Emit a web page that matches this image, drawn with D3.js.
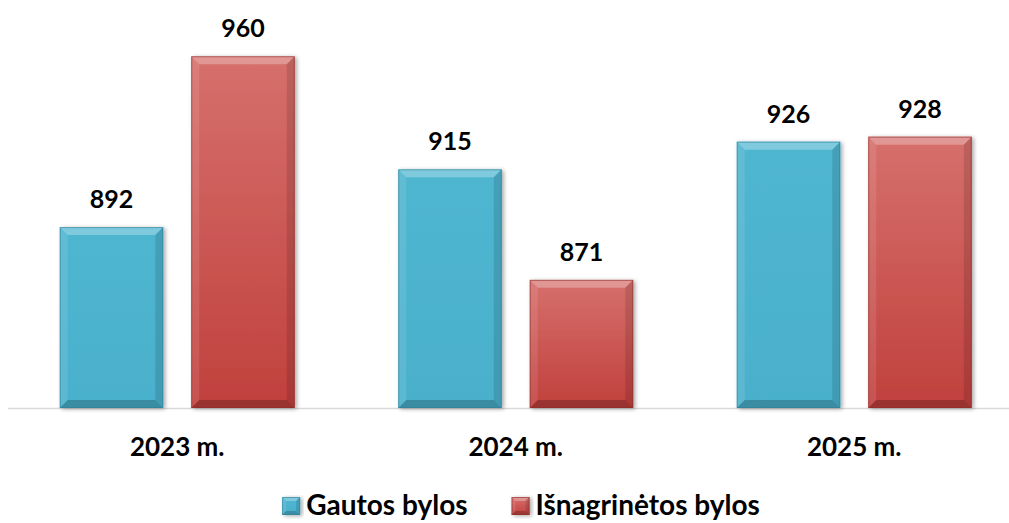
<!DOCTYPE html>
<html><head><meta charset="utf-8">
<script src="https://cdn.jsdelivr.net/npm/d3@7"></script>
<style>body{margin:0;background:#fff}svg{display:block}text{font-family:Lato,"Open Sans",sans-serif;font-weight:bold}</style>
</head><body><svg id="c" width="1009" height="523"></svg>
<script>
const categories = ["2023 m.", "2024 m.", "2025 m."];
const seriesNames = ["Gautos bylos", "Išnagrinėtos bylos"];
const gautos = [892, 915, 926];
const isnagrinetos = [960, 871, 928];
const yDomain = [820, 980];

const svg = d3.select("#c");
const defs = svg.append("defs");
const f = defs.append("filter").attr("id","sh").attr("x","-10%").attr("y","-10%").attr("width","130%").attr("height","130%");
f.append("feDropShadow").attr("dx",2).attr("dy",1).attr("stdDeviation",2).attr("flood-color","#000").attr("flood-opacity",0.35);
const g0 = defs.append("linearGradient").attr("id","gr1").attr("x1",0).attr("x2",0).attr("y1",0).attr("y2",1);
g0.append("stop").attr("offset","0%").attr("stop-color","#D6706C");
g0.append("stop").attr("offset","100%").attr("stop-color","#C0403D");
const g1 = defs.append("linearGradient").attr("id","gr0").attr("x1",0).attr("x2",0).attr("y1",0).attr("y2",1);
g1.append("stop").attr("offset","0%").attr("stop-color","#4FB6D0");
g1.append("stop").attr("offset","100%").attr("stop-color","#4AB0CC");
const fills = ["url(#gr0)", "url(#gr1)"];

const baseY = 408;
const x = d3.scaleBand().domain(categories).range([8, 1023.5]).paddingInner(0).paddingOuter(0);
const x1 = d3.scaleBand().domain(seriesNames).range([51.75, 338.5-51.75]).paddingInner(25/235*2).paddingOuter(0);
const y = d3.scaleLinear().domain(yDomain).range([baseY, 6]);

svg.append("line").attr("x1",8).attr("x2",1009).attr("y1",baseY+0.5).attr("y2",baseY+0.5).attr("stroke","#D9D9D9").attr("stroke-width",1.5);

const data = [];
categories.forEach((c,i)=>{ data.push({c, s:0, v:gautos[i]}); data.push({c, s:1, v:isnagrinetos[i]}); });

function bevel(gr, x0, y0, w, h, s, b) {
  const x1_ = x0+w, y1_ = y0+h;
  gr.append("rect").attr("x",x0).attr("y",y0).attr("width",w).attr("height",h).attr("fill",fills[s]).attr("filter","url(#sh)");
  gr.append("polygon").attr("points",[[x0,y0],[x1_,y0],[x1_-b,y0+b],[x0+b,y0+b]].join(" ")).attr("fill","#fff").attr("opacity",0.28);
  gr.append("polygon").attr("points",[[x0,y0],[x0+b,y0+b],[x0+b,y1_-b],[x0,y1_]].join(" ")).attr("fill","#fff").attr("opacity",0.1);
  gr.append("polygon").attr("points",[[x1_,y0],[x1_-b,y0+b],[x1_-b,y1_-b],[x1_,y1_]].join(" ")).attr("fill","#000").attr("opacity",0.12);
  gr.append("polygon").attr("points",[[x0,y1_],[x0+b,y1_-b],[x1_-b,y1_-b],[x1_,y1_]].join(" ")).attr("fill","#000").attr("opacity",0.2);
  gr.append("rect").attr("x",x0+0.5).attr("y",y0+0.5).attr("width",w-1).attr("height",h-1).attr("fill","none").attr("stroke",s?"#8f2f2c":"#2f8197").attr("stroke-opacity",0.6);
}

const bars = svg.append("g");
data.forEach(d=>{
  const bx = x(d.c)+x1(seriesNames[d.s]);
  const by = y(d.v);
  bevel(bars.append("g"), bx, by, x1.bandwidth(), baseY-by, d.s, 8);
  svg.append("text").attr("x",bx+x1.bandwidth()/2).attr("y",by-19).attr("text-anchor","middle").attr("font-size",25).attr("fill","#000").text(d.v);
});

svg.append("g").selectAll("text").data(categories).join("text")
  .attr("x",d=>x(d)+x.bandwidth()/2).attr("y",456).attr("text-anchor","middle").attr("font-size",26).attr("fill","#000").text(d=>d);

// legend, laid out sequentially and centred
const lg = svg.append("g");
const items = seriesNames.map((n,i)=>{
  const gg = lg.append("g");
  const t = gg.append("text").attr("y",515).attr("font-size",28).attr("fill","#000").text(n);
  return {gg, t, w: t.node().getComputedTextLength(), i};
});
const sq = 18, gapT = 6, gapItem = 44;
const total = items.reduce((a,it)=>a+sq+gapT+it.w,0) + gapItem*(items.length-1);
let cx = 521 - total/2;
items.forEach(it=>{
  bevel(it.gg.insert("g","text"), cx, 497, sq, sq, it.i, 4);
  it.t.attr("x", cx+sq+gapT);
  cx += sq+gapT+it.w+gapItem;
});
</script></body></html>
